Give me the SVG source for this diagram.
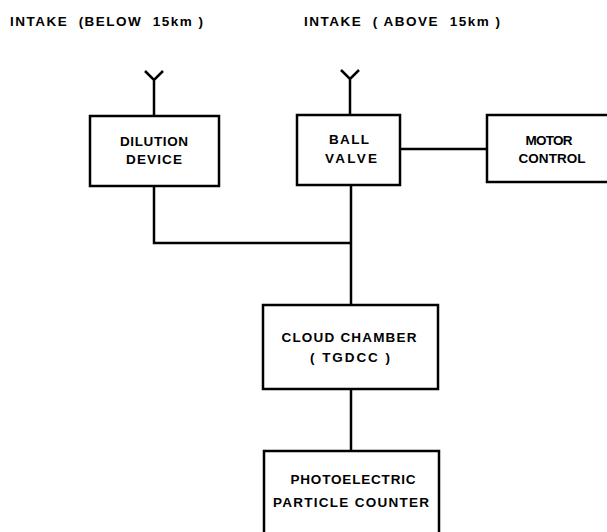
<svg xmlns="http://www.w3.org/2000/svg" width="607" height="532" viewBox="0 0 607 532">
<style>
.box{fill:#fff;stroke:#000;stroke-width:2.5}
.ln{fill:none;stroke:#000;stroke-width:2.5;stroke-linejoin:miter}
text{font-family:"Liberation Sans",Arial,sans-serif;font-weight:bold;font-size:13.5px;fill:#000}
.c{text-anchor:middle}
</style>
<rect width="607" height="532" fill="#fff"/>
<g id="titles">
<text x="10" y="26" textLength="193" lengthAdjust="spacing" xml:space="preserve">INTAKE  (BELOW  15km )</text>
<text x="304" y="26" textLength="196" lengthAdjust="spacing" xml:space="preserve">INTAKE  ( ABOVE  15km )</text>
</g>
<g id="connectors">
<path class="ln" d="M145,71 L154,80 L163,71 M154,80 V116"/>
<path class="ln" d="M341,70 L350,79 L359,70 M350,79 V115"/>
<path class="ln" d="M400,149 H487"/>
<path class="ln" d="M154,186 V243 H351"/>
<path class="ln" d="M351,185 V305"/>
<path class="ln" d="M351,389 V451"/>
</g>
<g id="dilution">
<rect class="box" x="90" y="116" width="129" height="70"/>
<text class="c" x="154" y="146" textLength="68" lengthAdjust="spacing">DILUTION</text>
<text class="c" x="154" y="164" textLength="56" lengthAdjust="spacing">DEVICE</text>
</g>
<g id="ballvalve">
<rect class="box" x="297" y="115" width="103" height="70"/>
<text class="c" x="349" y="144" textLength="40" lengthAdjust="spacing">BALL</text>
<text class="c" x="351" y="163" textLength="52" lengthAdjust="spacing">VALVE</text>
</g>
<g id="motor">
<rect class="box" x="487" y="115" width="125" height="67"/>
<text class="c" x="549" y="145" textLength="47" lengthAdjust="spacing">MOTOR</text>
<text class="c" x="552" y="163" textLength="67" lengthAdjust="spacing">CONTROL</text>
</g>
<g id="cloud">
<rect class="box" x="263" y="305" width="175" height="84"/>
<text class="c" x="349" y="342" textLength="135" lengthAdjust="spacing">CLOUD CHAMBER</text>
<text class="c" x="350" y="362" textLength="80" lengthAdjust="spacing" xml:space="preserve">( TGDCC )</text>
</g>
<g id="counter">
<rect class="box" x="264" y="451" width="175" height="90"/>
<text class="c" x="353" y="484" textLength="125" lengthAdjust="spacing">PHOTOELECTRIC</text>
<text class="c" x="351" y="507" textLength="156" lengthAdjust="spacing">PARTICLE COUNTER</text>
</g>
</svg>
